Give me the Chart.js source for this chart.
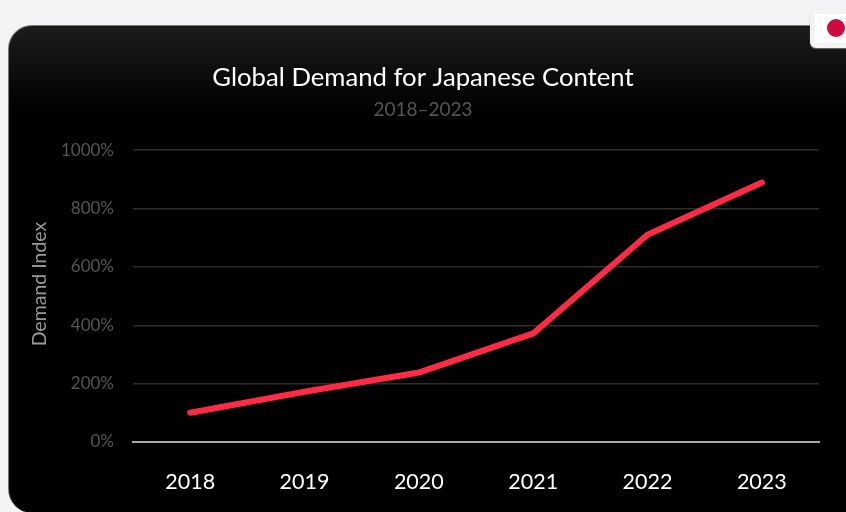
<!DOCTYPE html>
<html><head><meta charset="utf-8">
<script src="https://cdn.jsdelivr.net/npm/chart.js@4"></script>
<style>
html,body{margin:0;padding:0;width:846px;height:512px;overflow:hidden;background:#f4f4f6}
#card{position:absolute;left:8px;top:25px;width:900px;height:488px;box-sizing:border-box;border-radius:24px;
background:linear-gradient(#1c1c1c 0,#000 85px);border:1px solid #777;border-width:1px 0 0 1px}
#badge{position:absolute;left:810px;top:9px;width:60px;height:39px;box-sizing:border-box;border-radius:6px;background:#fff;border:5px solid #f3f3f4;box-shadow:0 1px 1px #666}
#dot{position:absolute;left:827px;top:19px;width:18px;height:18px;border-radius:50%;background:#cf0a3c}
canvas{position:absolute;left:0;top:0}
</style></head><body>
<div id="card"></div>
<canvas id="c" width="846" height="512"></canvas>
<div id="badge"></div><div id="dot"></div>
<script>
const categories=['2018','2019','2020','2021','2022','2023'];
const demandIndex=[100,172,238,372,710,889];
const yTicks=[0,200,400,600,800,1000];
const titleText='Global Demand for Japanese Content';
const subtitleText='2018–2023';
const axisTitle='Demand Index';
const F='Lato';
new Chart(document.getElementById('c'),{
 type:'line',
 data:{labels:categories,datasets:[{data:demandIndex,borderColor:'#ff2a45',borderWidth:6,pointRadius:0,tension:0,borderCapStyle:'round',borderJoinStyle:'round',fill:false}]},
 options:{responsive:false,animation:false,
  layout:{padding:{left:27,right:27,top:62,bottom:0}},
  plugins:{legend:{display:false},tooltip:{enabled:false},
   title:{display:true,text:titleText,color:'#fff',font:{family:F,size:25.7,weight:'400'},padding:{top:0,bottom:6}},
   subtitle:{display:true,text:subtitleText,color:'#555',font:{family:F,size:19,weight:'400'},padding:{top:0,bottom:28.5}}},
  scales:{
   x:{offset:true,grid:{display:false,drawTicks:false},border:{color:'#a8a8a8',width:2},
      ticks:{color:'#fff',font:{family:F,size:21.5},padding:27,maxRotation:0},
      afterFit(s){s.height=70}},
   y:{min:0,max:1000,afterBuildTicks(s){s.ticks=yTicks.map(v=>({value:v}))},
      grid:{color:'#2e2e2e',lineWidth:1.5,drawTicks:false},border:{display:false},
      title:{display:true,text:axisTitle,color:'#999',font:{family:F,size:19.5},padding:{top:1,bottom:0}},
      ticks:{color:'#555',font:{family:F,size:17},padding:19,callback:v=>v+'%'},
      afterFit(s){s.width=106;
        if(!s._shifted){s._shifted=true;const d=s.drawTitle;
          s.drawTitle=function(){this.top-=12;this.bottom-=12;d.call(this);this.top+=12;this.bottom+=12;};}}}
  }}
});
</script></body></html>
